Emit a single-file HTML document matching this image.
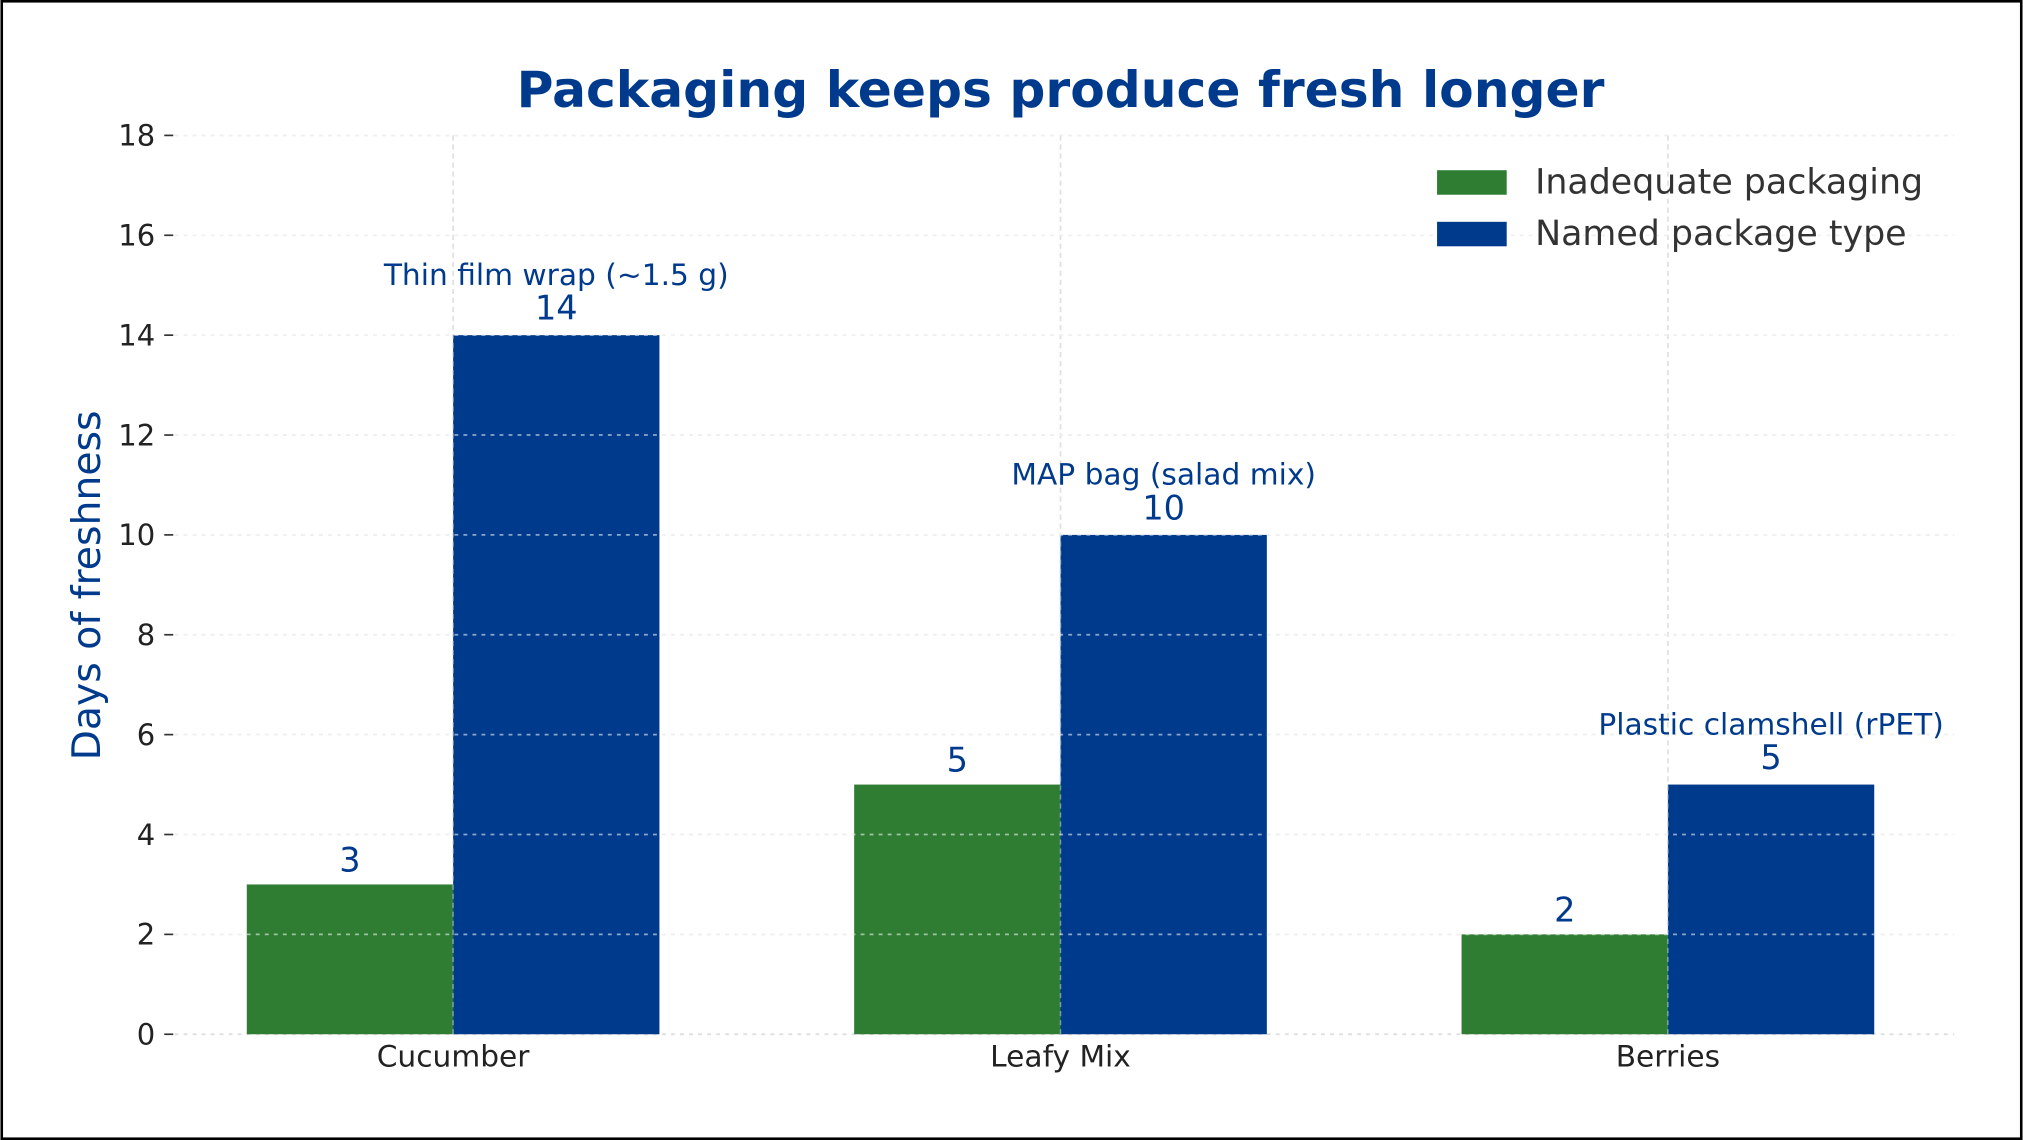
<!DOCTYPE html>
<html><head><meta charset="utf-8"><style>
html,body{margin:0;padding:0;background:#fff;}
svg{display:block;font-family:"DejaVu Sans","Liberation Sans",sans-serif;}
</style></head><body>
<svg id="chart" width="2023" height="1140" viewBox="0 0 1568 884" xmlns="http://www.w3.org/2000/svg">
<rect x="1" y="1" width="1566" height="882" fill="#fff" stroke="#000" stroke-width="2"/>
<text x="822" y="83" text-anchor="middle" font-size="39" font-weight="bold" fill="#003a8c">Packaging keeps produce fresh longer</text>
<text transform="translate(77,454) rotate(-90)" text-anchor="middle" font-size="30.5" fill="#003a8c">Days of freshness</text>
<g id="grid"></g><g id="bars"></g><g id="labels"></g>
<g>
<rect x="1114" y="132" width="54" height="19" fill="#2e7d32"/>
<text x="1190" y="150" font-size="27" fill="#333">Inadequate packaging</text>
<rect x="1114" y="172" width="54" height="19" fill="#003a8c"/>
<text x="1190" y="190" font-size="27" fill="#333">Named package type</text>
</g>
</svg>
<script>
const categories = ["Cucumber", "Leafy Mix", "Berries"];
const inadequate = [3, 5, 2];
const named = [14, 10, 5];
const packageNames = ["Thin film wrap (~1.5 g)", "MAP bag (salad mix)", "Plastic clamshell (rPET)"];
const yTicks = [0, 2, 4, 6, 8, 10, 12, 14, 16, 18];

const NS = "http://www.w3.org/2000/svg";
const y0 = 802, y1 = 105, yMax = 18;
const yScale = v => y0 - v / yMax * (y0 - y1);
const xCenter = i => 351 + i * 471;
const bw = 160;
const grid = document.getElementById('grid'), bars = document.getElementById('bars'), labels = document.getElementById('labels');
function mk(tag, attrs, parent, txt) {
  const e = document.createElementNS(NS, tag);
  for (const k in attrs) e.setAttribute(k, attrs[k]);
  if (txt !== undefined) e.textContent = txt;
  parent.appendChild(e); return e;
}
yTicks.forEach(t => {
  const y = yScale(t);
  const g = mk('line', {x1: 135, x2: 1515, y1: y, y2: y, stroke: '#ddd', 'stroke-width': 1.3, 'stroke-dasharray': '3,4'}, grid);
  
  
  const tk = mk('line', {x1: 127, x2: 134, y1: y, y2: y, stroke: '#333', 'stroke-width': 1.3}, grid);
  
  
  const tl = mk('text', {x: 120, y: y + 8, 'text-anchor': 'end', 'font-size': 22.5, fill: '#222'}, grid, String(t));
  
  
});
categories.forEach((c, i) => {
  const cx = xCenter(i);
  const ga = mk('rect', {x: cx - bw, y: yScale(inadequate[i]), width: bw, height: y0 - yScale(inadequate[i]), fill: '#2e7d32'}, bars);
  
  
  const gb = mk('rect', {x: cx, y: yScale(named[i]), width: bw, height: y0 - yScale(named[i]), fill: '#003a8c'}, bars);
  
  
  const vl = mk('line', {x1: cx, x2: cx, y1: y1, y2: y0, stroke: '#ccc', 'stroke-width': 1.2, 'stroke-dasharray': '4,3'}, grid);
  
  
  const xl = mk('text', {x: cx, y: 827, 'text-anchor': 'middle', 'font-size': 23, fill: '#222'}, labels, c);
  
  
  const va = mk('text', {x: cx - bw / 2, y: yScale(inadequate[i]) - 10, 'text-anchor': 'middle', 'font-size': 26, fill: '#003a8c'}, labels, String(inadequate[i]));
  
  
  const vb = mk('text', {x: cx + bw / 2, y: yScale(named[i]) - 12, 'text-anchor': 'middle', 'font-size': 26, fill: '#003a8c'}, labels, String(named[i]));
  
  
  const pn = mk('text', {x: cx + bw / 2, y: yScale(named[i]) - 39, 'text-anchor': 'middle', 'font-size': 23, fill: '#003a8c'}, labels, packageNames[i]);
  
  
});
yTicks.forEach(t => {
  if (t === 0) return;
  const y = yScale(t);
  const o = mk('line', {x1: 135, x2: 1515, y1: y, y2: y, stroke: 'rgba(255,255,255,0.55)', 'stroke-width': 1.3, 'stroke-dasharray': '3,4'}, bars);
  
  
});
categories.forEach((c, i) => {
  const o = mk('line', {x1: xCenter(i), x2: xCenter(i), y1: y1, y2: y0, stroke: 'rgba(255,255,255,0.4)', 'stroke-width': 1.2, 'stroke-dasharray': '4,3'}, bars);
  
  
});
</script>
</body></html>
